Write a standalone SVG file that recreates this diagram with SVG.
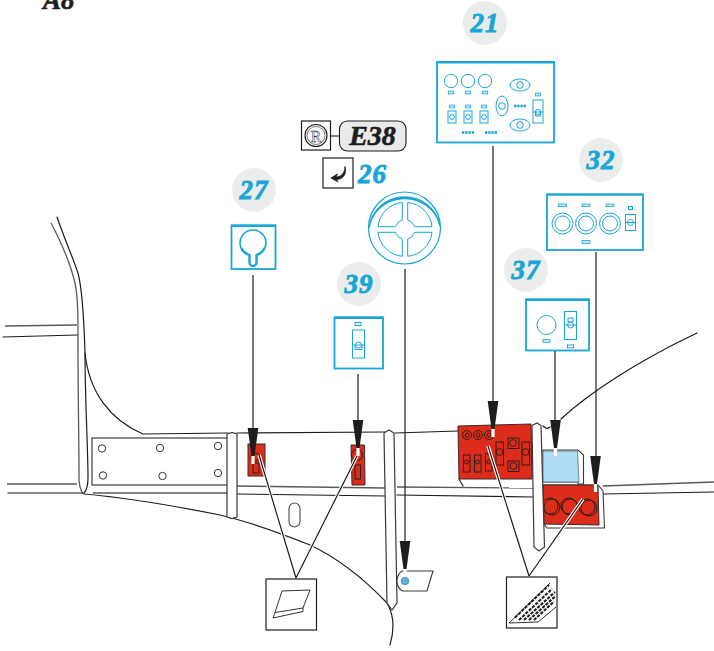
<svg xmlns="http://www.w3.org/2000/svg" width="714" height="651" viewBox="0 0 714 651">
<style>
text{font-family:"Liberation Serif","DejaVu Serif",serif;font-weight:bold;font-style:italic}
.num{font-size:27px;fill:#19a6d6;stroke:#19a6d6;stroke-width:.9;text-anchor:middle;letter-spacing:1px}
.badge{fill:#ebedec}
.panel{fill:#fff;stroke:#19a6d6;stroke-width:1.8}
.top{fill:#19a6d6}
.c{fill:none;stroke:#19a6d6;stroke-width:1}
.cf{fill:#c9e8f5;stroke:#19a6d6;stroke-width:.8}
.b{fill:none;stroke:#1d1d1b;stroke-width:1.2;stroke-linecap:round;stroke-linejoin:round}
.g{fill:none;stroke:#5a5a58;stroke-width:1.3}
.p{fill:#fff;stroke:#3a3a38;stroke-width:1.2}
.red{fill:#dd2c1c;stroke:#3a2a28;stroke-width:1}
.k{fill:none;stroke:#1d1d1b;stroke-width:.9}
.halo{fill:none;stroke:#fff;stroke-width:3.4}
.lead{fill:none;stroke:#1d1d1b;stroke-width:1.2}
.box{fill:#fff;stroke:#1d1d1b;stroke-width:1.2}
</style>
<defs>
<g id="arrow"><polygon points="-5.3,0 5.3,0 1.5,28 -1.5,28" fill="#1d1d1b"/><rect x="-1.6" y="28" width="3.2" height="8" fill="#fff"/></g>
<g id="sw"><rect x="-4" y="-6" width="8" height="12" class="c"/><circle r="2.4" class="c"/></g>
<rect id="tag" x="-2.7" y="-1.4" width="5.4" height="2.8" class="cf"/>
<g id="dots"><path d="M0,0h12" stroke="#19a6d6" stroke-width="2.6" stroke-dasharray="2.4 .8" fill="none"/></g>
</defs>

<text x="43" y="9" font-size="27" fill="#1d1d1b" stroke="#1d1d1b" stroke-width=".6">A8</text>

<g id="body">
<path class="b" d="M57,217C65,240 73,258 78,273C82,288 84,320 85,353C85,400 88,450 88,477C88,485 87,490 84,493"/>
<path class="g" d="M51,223C60,240 70,262 75,283C78,298 78,315 78,340C78,400 79,440 79,477C79,485 81,491 83,494"/>
<path class="b" d="M85,353C89,392 110,420 143,434L228,433"/>
<path class="g" d="M5,326L77,325"/><path class="b" d="M3,337L77,335"/>
<path class="g" d="M7,484L77,484"/><path class="b" d="M8,493L83,493"/>
<path class="g" d="M93,493L227,493"/>
<path class="b" d="M84,494C130,498 180,507 220,515C250,522 280,533 310,545C340,559 365,580 387,603C394,615 395,628 390,645"/>
<rect id="plate" x="92" y="438" width="136" height="47" fill="#fff" stroke="#2a2a28" stroke-width="1.1"/>
<g class="k" fill="#fff"><circle cx="102" cy="448.500" r="3.700"/><circle cx="160" cy="448" r="3.700"/><circle cx="218" cy="446" r="3.700"/><circle cx="103" cy="475.500" r="3.700"/><circle cx="162.500" cy="476" r="3.700"/><circle cx="218" cy="473" r="3.700"/></g>
<path class="g" d="M237,486L385,488"/><path class="b" d="M237,494L385,496"/>
<path class="b" d="M237,433L385,432M395,433L458,431"/>
<path class="g" d="M397,487L533,488"/><path class="b" d="M397,495L533,497"/>
<path class="g" d="M603,486L714,482"/><path class="b" d="M603,494L714,492"/>
<rect x="289" y="503" width="11" height="24" rx="5.500" fill="#fff" stroke="#4a4a48" stroke-width="1.1"/>
<path class="b" d="M561,419C590,392 640,360 697,333"/>
<path class="b" d="M543,426C546,429 548,429 550,427"/>
<path class="p" d="M227,434L232,432.500L237,434L237,517L232,518.500L227,517Z"/>
<path class="p" d="M384,433L389,430L394,433L397,603L392,610L387,603Z"/>
</g>

<g id="part-21">
<path class="b" d="M459,479L463,486"/>
<path class="red" d="M458,426L531,424L532,479L459,479Z"/>
<g class="k"><circle cx="467" cy="435" r="4.500"/><circle cx="467" cy="435" r="2"/><circle cx="478" cy="435" r="4.500"/><circle cx="478" cy="435" r="2"/><circle cx="489" cy="435" r="4.500"/><circle cx="489" cy="435" r="2"/>
<rect x="463.500" y="455" width="6.500" height="17"/><circle cx="466.500" cy="462" r="2"/><rect x="474.500" y="455" width="6.500" height="17"/><circle cx="477.500" cy="462" r="2"/><rect x="485.500" y="454" width="6.500" height="17"/><circle cx="488.500" cy="462" r="2"/>
<rect x="496" y="442" width="7.500" height="23"/><circle cx="499.500" cy="452" r="3.400"/><rect x="522" y="442" width="7.500" height="23"/><circle cx="525.500" cy="452" r="3.400"/>
<rect x="508" y="438" width="11" height="10.500"/><circle cx="513" cy="443" r="3.400"/><rect x="508" y="461" width="11" height="10.500"/><circle cx="513.500" cy="466" r="3.400"/></g>
</g>
<g id="part-37">
<path d="M543,450H578L583.500,455V484H578V482H543Z" fill="#fff" stroke="#3a3a38" stroke-width="1.100"/>
<path d="M543,451H577.500L579,482H543Z" fill="#aedcf4" stroke="#5b6b75" stroke-width=".8"/>
</g>
<g id="part-32">
<path d="M543,485H598L603,491L604.500,528H547L544,524Z" fill="#fff" stroke="#3a3a38" stroke-width="1.100"/>
<path class="red" d="M543,485L598,485L599,525L544,524Z"/>
<g class="k"><circle cx="552" cy="507" r="8"/><circle cx="550" cy="506" r="8"/><circle cx="570" cy="507" r="8"/><circle cx="569" cy="506" r="8"/><circle cx="589" cy="508" r="8"/><circle cx="587" cy="507" r="8"/></g>
</g>
<path class="p" d="M532,425.500L537,423L541,425.500L544.500,547L539,551L534,547Z"/>
<g id="part-27"><rect class="red" x="248" y="444" width="17" height="32"/><rect class="k" x="253" y="463" width="6" height="10"/><circle class="k" cx="255" cy="457" r="4"/></g>
<g id="part-39"><path class="red" d="M351,445H364.500L365,485H352Z"/><circle class="k" cx="357" cy="455" r="5.500"/><rect class="k" x="355" y="465" width="5.500" height="14"/></g>
<g id="part-26">
<path d="M433,571L427,591L403,591C399,590 397,585 397,581C397,576 400,572 402,571Z" fill="#fff" stroke="#3a3a38" stroke-width="1.100"/>
<circle cx="405" cy="581" r="3.800" fill="#55b5de" stroke="#2b6f92" stroke-width=".6"/>
</g>

<g id="label-21"><circle class="badge" cx="485" cy="23" r="22"/><text class="num" x="485" y="32">21</text></g>
<g id="label-32"><circle class="badge" cx="601" cy="160" r="22"/><text class="num" x="601" y="169">32</text></g>
<g id="label-37"><circle class="badge" cx="526" cy="270" r="22"/><text class="num" x="526" y="279">37</text></g>
<g id="label-39"><circle class="badge" cx="359" cy="284" r="22"/><text class="num" x="359" y="293">39</text></g>
<g id="label-27"><circle class="badge" cx="254" cy="190" r="22"/><text class="num" x="254" y="199">27</text></g>

<g id="panel-21">
<rect class="panel" x="437" y="62" width="117" height="80.500"/><rect class="top" x="436.500" y="61" width="118" height="2.500"/>
<circle class="c" cx="451" cy="81" r="6.700"/><circle class="c" cx="468" cy="81" r="6.700"/><circle class="c" cx="485" cy="81" r="6.700"/>
<use href="#tag" x="451" y="92.500"/><use href="#tag" x="468" y="92.500"/><use href="#tag" x="485" y="92.500"/>
<use href="#tag" x="452" y="106.500"/><use href="#tag" x="468" y="106.500"/><use href="#tag" x="484" y="106.500"/>
<use href="#sw" x="452" y="117"/><use href="#sw" x="468" y="117"/><use href="#sw" x="484" y="117"/>
<use href="#dots" x="462" y="132.500"/><use href="#dots" x="485" y="132.500"/><use href="#dots" x="514" y="106"/>
<ellipse class="c" cx="520" cy="85" rx="10" ry="6"/><circle class="c" cx="520" cy="85" r="3.300"/>
<ellipse class="c" cx="520" cy="125" rx="10" ry="6"/><circle class="c" cx="520" cy="125" r="3.300"/>
<ellipse class="c" cx="502" cy="106" rx="6" ry="10"/><circle class="c" cx="502" cy="106" r="3.300"/>
<rect class="c" x="533" y="100" width="10" height="23" stroke-width="1.200"/><circle class="c" cx="538" cy="112" r="2.600"/><path class="c" d="M533,112h10M535.500,112v4h5v-4"/>
<use href="#tag" x="538" y="94.500"/>
</g>
<g id="panel-32">
<rect class="panel" x="547" y="194.500" width="96" height="55.500"/><rect class="top" x="546.500" y="193.500" width="97" height="2"/>
<circle class="c" cx="562.500" cy="223.500" r="10.500"/><circle class="c" cx="562.500" cy="223.500" r="7.500"/><circle class="c" cx="586" cy="223.500" r="10.500"/><circle class="c" cx="586" cy="223.500" r="7.500"/><circle class="c" cx="610" cy="223.500" r="10.500"/><circle class="c" cx="610" cy="223.500" r="7.500"/>
<rect x="558.500" y="204" width="8" height="2.600" class="cf"/><rect x="582" y="204" width="8" height="2.600" class="cf"/><rect x="606" y="204" width="8" height="2.600" class="cf"/><rect x="582" y="240.500" width="8" height="3" class="cf"/>
<rect x="628.500" y="206.500" width="4" height="3" class="c"/><rect x="625.500" y="214.500" width="10" height="16" class="c"/><circle class="c" cx="630.500" cy="222.500" r="3"/><path class="c" d="M625.500,222.500h10"/>
</g>
<g id="panel-37">
<rect class="panel" x="526" y="299.500" width="63" height="51"/><rect class="top" x="525.500" y="298.500" width="64" height="2.500"/>
<circle class="c" cx="546.500" cy="325" r="9.500"/><rect class="cf" x="543" y="339.500" width="7" height="2.800"/>
<rect class="c" x="564.500" y="311.500" width="12" height="28" stroke-width="1.200"/><circle class="c" cx="570.500" cy="325" r="3"/><path class="c" d="M564.500,325h12M568,318h5v4h-5z"/><rect class="c" x="567.500" y="345" width="6" height="2.800"/>
</g>
<g id="panel-39">
<rect class="panel" x="334.500" y="317.500" width="48.500" height="51"/><rect class="top" x="334" y="316.500" width="49.500" height="2.500"/>
<rect class="c" x="355" y="322.500" width="6" height="3"/><rect class="c" x="352.500" y="330" width="12" height="28"/><circle class="c" cx="358.500" cy="345" r="3"/><path class="c" d="M352.500,345h12M355,345v4.500h7v-4.500"/>
</g>
<g id="panel-27">
<rect class="panel" x="231.500" y="225.500" width="44" height="43.500"/><rect class="top" x="231" y="224.500" width="45" height="2.500"/>
<path d="M249.500,255C241,252 240,246 240,243A13,13 0 1 1 266,243C266,247 263,252 256.500,255V262.500A3.500,3.500 0 0 1 249.500,262.500Z" fill="none" stroke="#19a6d6" stroke-width="1.600"/>
<path d="M241.500,248C243,252 246,254 249.500,255V262.500A3.500,3.500 0 0 0 256.500,262.500V255C260,254 263,252 264.500,248" fill="none" stroke="#19a6d6" stroke-width="2.200"/>
</g>
<g id="panel-26">
<circle cx="404.500" cy="228" r="36" fill="#fff" stroke="#19a6d6" stroke-width="1.200"/>
<path d="M369,228A36,36 0 0 1 440,226A36,34 0 0 0 369,228Z" fill="#19a6d6" stroke="#19a6d6" stroke-width="1.500"/>
<g class="c" stroke-width="1.100">
<path d="M402.300,202.500A27,27 0 0 0 378,226.700H395.500A10,10 0 0 1 402.300,220Z"/>
<path d="M407.700,202.500A27,27 0 0 1 432,226.700H414.500A10,10 0 0 0 407.700,220Z"/>
<path d="M402.300,256.300A27,27 0 0 1 378,232.300H395.500A10,10 0 0 0 402.300,239Z"/>
<path d="M407.700,256.300A27,27 0 0 0 432,232.300H414.500A10,10 0 0 1 407.700,239Z"/>
</g>
</g>
<g id="code-e38">
<path d="M331,136H340" stroke="#1d1d1b" stroke-width="1.100"/>
<rect class="box" x="301.500" y="121" width="29" height="29"/>
<circle cx="316" cy="135.500" r="11" fill="none" stroke="#1d1d1b" stroke-width="1.100"/><circle cx="316" cy="135.500" r="9" fill="none" stroke="#1d1d1b" stroke-width=".6"/>
<text x="316" y="141.500" font-size="16" text-anchor="middle" fill="#fff" stroke="#1d1d1b" stroke-width=".5" style="font-style:normal;font-weight:normal">R</text>
<rect x="339.500" y="121" width="66.500" height="30" rx="8" fill="#e9ebea" stroke="#1d1d1b" stroke-width="1.100"/>
<text x="372.500" y="144.500" font-size="28" text-anchor="middle" fill="#1d1d1b" stroke="#1d1d1b" stroke-width=".6">E38</text>
</g>
<g id="code-26">
<rect class="box" x="323" y="158" width="30" height="30"/>
<path d="M345,166.500C345,173 341,177 336,177L337.500,174L331,178L338,182L336.500,179.500C343,179.500 347,174 345,166.500Z" fill="#1d1d1b" stroke="#1d1d1b" stroke-width=".8"/>
<text class="num" x="372.500" y="183">26</text>
</g>

<g id="connectors">
<g class="lead">
<path d="M253,275V428"/><path d="M358,374V420"/><path d="M405,269V541"/><path d="M493,146V401"/><path d="M555,351V420"/><path d="M596,252V456"/>
</g>
<path class="halo" d="M296,578L259,455M296,578L357,456"/>
<path class="lead" d="M296,578L259,455M296,578L357,456"/>
<path class="halo" d="M529,576L488,446M529,576L583,499"/>
<path class="lead" d="M529,576L488,446M529,576L583,499"/>
<use href="#arrow" x="253" y="428"/><use href="#arrow" x="358" y="420"/><use href="#arrow" x="405" y="541"/><use href="#arrow" x="493" y="401"/><use href="#arrow" x="555.500" y="420"/><use href="#arrow" x="595.500" y="456"/>
</g>

<g id="detail-left">
<rect class="box" x="266" y="579" width="50.500" height="51"/>
<path class="k" d="M282,591L310,590L303,608L275,612.500Z"/><path class="k" d="M275,612.500L273,618L303,611.500L303,608"/>
</g>
<g id="detail-right">
<rect class="box" x="506.500" y="577" width="50.500" height="51"/>
<path class="k" d="M550,583L509,623L538,622L556,607"/>
<g fill="none" stroke="#1d1d1b" stroke-width="2.100" stroke-dasharray="3.200 1.300"><path d="M515,617.500L549,585"/><path d="M519,620L552,589"/><path d="M524,620L555,592"/><path d="M529,620L555,596.500"/><path d="M534,620L554,601.500"/></g>
</g>
</svg>
